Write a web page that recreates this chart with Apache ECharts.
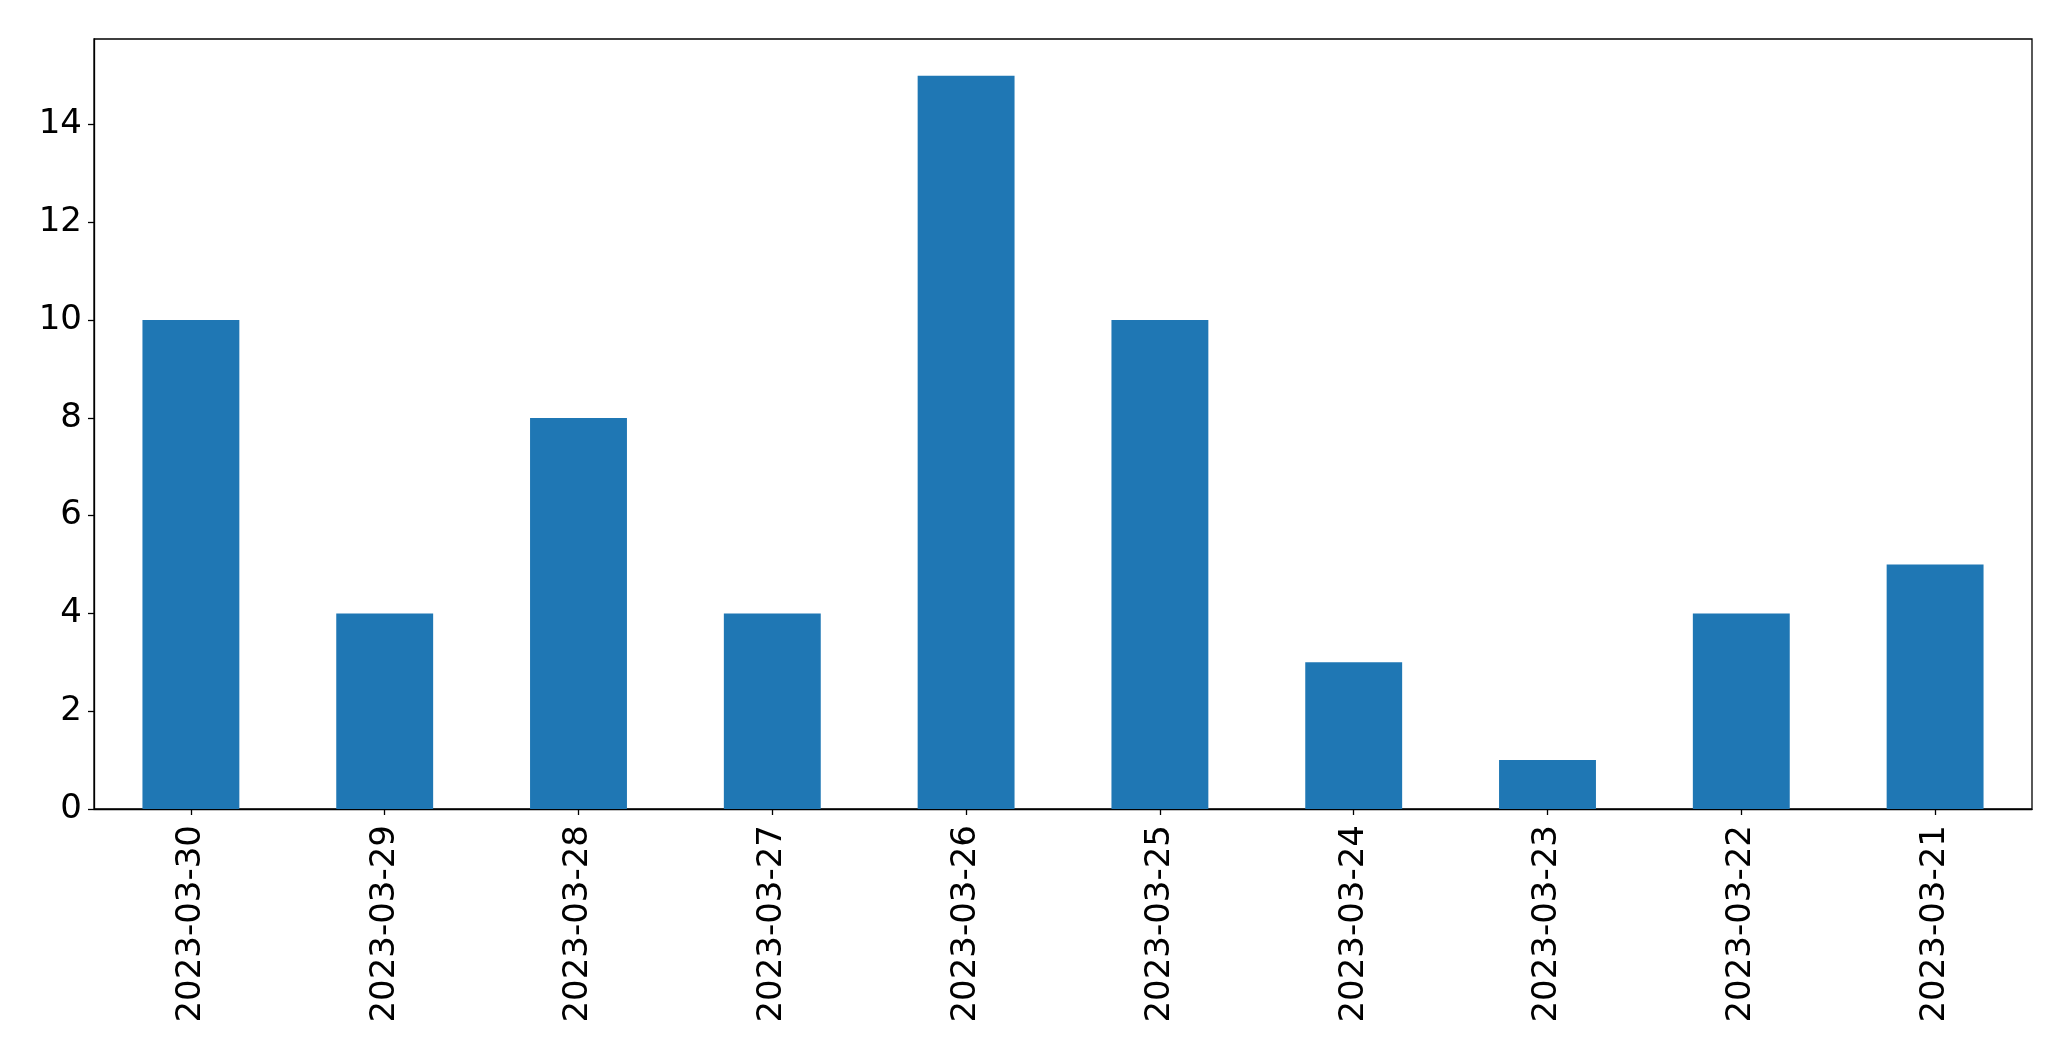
<!DOCTYPE html>
<html>
<head>
<meta charset="utf-8">
<script src="https://cdn.jsdelivr.net/npm/echarts@6/dist/echarts.min.js"></script>
<style>html,body{margin:0;padding:0;background:#fff;}#c{width:2071px;height:1061px;}</style>
</head>
<body>
<div id="c"></div>
<script>
const categories = ["2023-03-30","2023-03-29","2023-03-28","2023-03-27","2023-03-26","2023-03-25","2023-03-24","2023-03-23","2023-03-22","2023-03-21"];
const values = [10, 4, 8, 4, 15, 10, 3, 1, 4, 5];
const yTicks = [0, 2, 4, 6, 8, 10, 12, 14];

const chart = echarts.init(document.getElementById('c'), null, {renderer: 'canvas'});
const font = {fontFamily: 'DejaVu Sans', fontSize: 34, color: '#000'};
chart.setOption({
  animation: false,
  backgroundColor: '#fff',
  grid: {left: 94, right: 39, top: 39, bottom: 252, show: true, borderColor: '#000', borderWidth: 1.3, backgroundColor: 'transparent'},
  xAxis: {
    type: 'category',
    data: categories,
    boundaryGap: true,
    axisLine: {show: true, lineStyle: {color: '#000', width: 1.3}},
    axisTick: {show: true, alignWithLabel: true, length: 6, lineStyle: {color: '#000', width: 1.3}},
    axisLabel: Object.assign({rotate: 90, margin: 16, interval: 0}, font),
    splitLine: {show: false}
  },
  yAxis: {
    type: 'value',
    min: 0,
    max: 15.75,
    interval: 2,
    axisLine: {show: true, lineStyle: {color: '#000', width: 1.3}},
    axisTick: {show: true, length: 6, lineStyle: {color: '#000', width: 1.3}},
    axisLabel: Object.assign({margin: 12, showMaxLabel: false,
      formatter: v => yTicks.includes(v) ? String(v) : ''}, font),
    splitLine: {show: false}
  },
  series: [{
    type: 'bar',
    data: values,
    barWidth: '50%',
    itemStyle: {color: '#1f77b4'}
  }]
});
</script>
</body>
</html>
